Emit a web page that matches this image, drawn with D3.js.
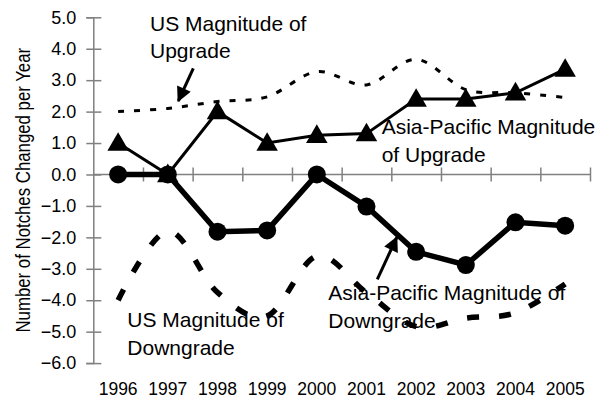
<!DOCTYPE html>
<html>
<head>
<meta charset="utf-8">
<script src="https://cdn.jsdelivr.net/npm/d3@7"></script>
<style>
  html, body { margin: 0; padding: 0; background: #fff; }
  svg { display: block; }
  text { font-family: "Liberation Sans", Arial, sans-serif; fill: #000; }
</style>
</head>
<body>
<svg id="chart" width="610" height="412"></svg>
<script>
// Rating changes (notches per year)
const years = [1996, 1997, 1998, 1999, 2000, 2001, 2002, 2003, 2004, 2005];
const apUpgrade   = [1.0, 0.0, 2.0, 1.0, 1.25, 1.3, 2.4, 2.4, 2.6, 3.35];
const apDowngrade = [0.0, 0.0, -1.82, -1.78, 0.0, -1.02, -2.46, -2.88, -1.52, -1.63];
const usUpgrade   = [2.0, 2.1, 2.32, 2.47, 3.27, 2.85, 3.66, 2.7, 2.6, 2.45];
const usDowngrade = [-4.0, -1.8, -3.75, -4.5, -2.6, -3.76, -4.84, -4.57, -4.4, -3.48];
const yTicks = [5, 4, 3, 2, 1, 0, -1, -2, -3, -4, -5, -6];

const svg = d3.select("#chart");
const plotLeft = 93.3, plotRight = 590, plotTop = 17.3, plotBottom = 363.1;

const x = d3.scaleBand().domain(years).range([plotLeft, plotRight]).padding(0);
const cx = d => x(d) + x.bandwidth() / 2;
const y = d3.scaleLinear().domain([-6, 5]).range([plotBottom, plotTop]);
const xEdge = d3.scaleLinear().domain([0, years.length]).range([plotLeft, plotRight]);

const gray = "#808080";

// Y axis with crossing tick marks
const yAxis = svg.append("g")
  .attr("transform", `translate(${plotLeft},0)`)
  .call(d3.axisLeft(y).tickValues(yTicks).tickSize(7).tickPadding(10)
    .tickFormat(d3.format(".1f")));
yAxis.select(".domain").attr("stroke", gray).attr("stroke-width", 1.5);
yAxis.selectAll(".tick line").attr("stroke", gray).attr("stroke-width", 1.5).attr("x2", -7).attr("x1", 8);
yAxis.selectAll(".tick text").attr("font-size", 18).attr("fill", "#000")
  .style("font-family", '"Liberation Sans", Arial, sans-serif');

// Horizontal axis through zero with category-boundary ticks
const xAxis = svg.append("g")
  .attr("transform", `translate(0,${y(0)})`)
  .call(d3.axisBottom(xEdge).tickValues(d3.range(1, years.length + 1)).tickSize(7).tickFormat(""));
xAxis.select(".domain").attr("stroke", gray).attr("stroke-width", 1.5).attr("d", `M${plotLeft},0H${plotRight}`);
xAxis.selectAll(".tick line").attr("stroke", gray).attr("stroke-width", 1.5).attr("y1", -7).attr("y2", 7);

// Year labels along the bottom
const yearAxis = svg.append("g")
  .attr("transform", `translate(0,${plotBottom + 19})`)
  .call(d3.axisBottom(x).tickSize(0).tickPadding(0));
yearAxis.select(".domain").remove();
yearAxis.selectAll(".tick text").attr("font-size", 17.5).attr("fill", "#000")
  .style("font-family", '"Liberation Sans", Arial, sans-serif');

// Y axis title, horizontally condensed to fit the axis height
svg.append("text")
  .attr("transform", `translate(30,${(plotTop + plotBottom) / 2}) rotate(-90) scale(0.8,1)`)
  .attr("text-anchor", "middle")
  .attr("font-size", 21)
  .text("Number of Notches Changed per Year");

// Annotation labels
const labels = [
  { lines: ["US Magnitude of", "Upgrade"], x: 150, y: 30.5 },
  { lines: ["Asia-Pacific Magnitude", "of Upgrade"], x: 381.7, y: 134 },
  { lines: ["US Magnitude of", "Downgrade"], x: 127.3, y: 327 },
  { lines: ["Asia-Pacific Magnitude of", "Downgrade"], x: 328.3, y: 300 }
];
labels.forEach(l => {
  const t = svg.append("text").attr("x", l.x).attr("y", l.y).attr("font-size", 21);
  l.lines.forEach((s, i) => t.append("tspan").attr("x", l.x).attr("dy", i ? 27.5 : 0).text(s));
});

// Arrow marker
svg.append("defs").append("marker")
  .attr("id", "arrow").attr("viewBox", "0 0 10 10")
  .attr("refX", 9).attr("refY", 5)
  .attr("markerWidth", 5.5).attr("markerHeight", 5)
  .attr("markerUnits", "strokeWidth")
  .attr("orient", "auto")
  .append("path").attr("d", "M0,0L10,5L0,10Z").attr("fill", "#000");

const arrows = [
  { x1: 193.3, y1: 68.3, x2: 178.3, y2: 101 },
  { x1: 377.3, y1: 279.3, x2: 396.7, y2: 237.5 }
];
svg.selectAll("line.arrow").data(arrows).join("line")
  .attr("class", "arrow")
  .attr("x1", d => d.x1).attr("y1", d => d.y1)
  .attr("x2", d => d.x2).attr("y2", d => d.y2)
  .attr("stroke", "#000").attr("stroke-width", 3)
  .attr("marker-end", "url(#arrow)");

// Series lines
const smooth = d3.line().x((d, i) => cx(years[i])).y(d => y(d)).curve(d3.curveCardinal.tension(0));
const straight = d3.line().x((d, i) => cx(years[i])).y(d => y(d));

svg.append("path").attr("d", smooth(usUpgrade))
  .attr("fill", "none").attr("stroke", "#000").attr("stroke-width", 3)
  .attr("stroke-dasharray", "6,10");
svg.append("path").attr("d", smooth(usDowngrade))
  .attr("fill", "none").attr("stroke", "#000").attr("stroke-width", 5.5)
  .attr("stroke-dasharray", "12,20");

svg.append("path").attr("d", straight(apUpgrade))
  .attr("fill", "none").attr("stroke", "#000").attr("stroke-width", 3);
svg.append("path").attr("d", straight(apDowngrade))
  .attr("fill", "none").attr("stroke", "#000").attr("stroke-width", 5.5);

// Markers
const tri = d3.symbol().type(d3.symbolTriangle).size(200);
svg.selectAll("path.tri").data(apUpgrade).join("path")
  .attr("class", "tri")
  .attr("d", tri)
  .attr("transform", (d, i) => `translate(${cx(years[i])},${y(d) + 1.5})`)
  .attr("fill", "#000");

svg.selectAll("circle.dot").data(apDowngrade).join("circle")
  .attr("class", "dot")
  .attr("cx", (d, i) => cx(years[i])).attr("cy", d => y(d))
  .attr("r", 9).attr("fill", "#000");
</script>
</body>
</html>
